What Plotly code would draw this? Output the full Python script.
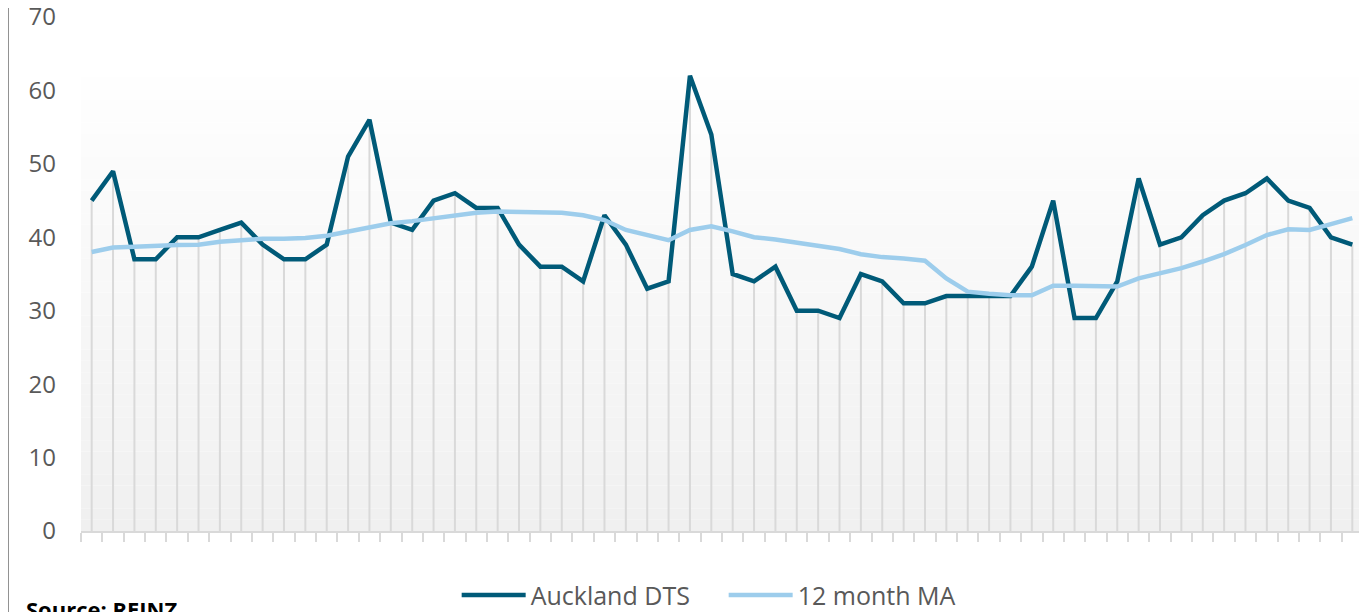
import plotly.graph_objects as go

# ---- data ----
periods = list(range(1, 61))
auckland_dts = [45, 49, 37, 37, 40, 40, 41, 42, 39, 37,
                37, 39, 51, 56, 42, 41, 45, 46, 44, 44,
                39, 36, 36, 34, 43, 39, 33, 34, 62, 54,
                35, 34, 36, 30, 30, 29, 35, 34, 31, 31,
                32, 32, 32, 32, 36, 45, 29, 29, 34, 48,
                39, 40, 43, 45, 46, 48, 45, 44, 40, 39]
ma_12 = [38.0, 38.6, 38.7, 38.9, 38.95, 39.0, 39.4, 39.6, 39.8, 39.8,
         39.9, 40.2, 40.8, 41.4, 41.9, 42.2, 42.6, 43.0, 43.35, 43.5,
         43.5, 43.45, 43.35, 43.0, 42.35, 41.0, 40.3, 39.6, 41.0, 41.5,
         40.8, 40.0, 39.7, 39.3, 38.8, 38.4, 37.7, 37.3, 37.1, 36.8,
         34.4, 32.6, 32.3, 32.1, 32.1, 33.4, 33.4, 33.4, 33.3, 34.4,
         35.1, 35.8, 36.7, 37.7, 38.95, 40.3, 41.1, 41.0, 41.8, 42.6]
y_ticks = [0, 10, 20, 30, 40, 50, 60, 70]
series_names = ["Auckland DTS", "12 month MA"]

DARK = "#005a78"
LIGHT = "#9dcdec"
GREY_TXT = "#595959"
FONT = "Open Sans"

fig = go.Figure()

# drop lines from each DTS point down to zero
drop_x, drop_y = [], []
for p, v in zip(periods, auckland_dts):
    drop_x += [p, p, None]
    drop_y += [0, v, None]
fig.add_trace(go.Scatter(x=drop_x, y=drop_y, mode="lines",
                         line=dict(color="#d9d9d9", width=2),
                         showlegend=False, hoverinfo="skip"))

fig.add_trace(go.Scatter(x=periods, y=auckland_dts, mode="lines", name=series_names[0],
                         line=dict(color=DARK, width=4.5, shape="linear")))
fig.add_trace(go.Scatter(x=periods, y=ma_12, mode="lines", name=series_names[1],
                         line=dict(color=LIGHT, width=4.5)))

# gradient plot-area fill (white at top -> light grey at bottom)
shapes = []
n_bands = 40
top = 0.883
for i in range(n_bands):
    y0 = top * i / n_bands
    y1 = top * (i + 1) / n_bands
    frac = i / (n_bands - 1)  # 0 bottom, 1 top
    c = int(round(240 + (254 - 240) * frac))
    shapes.append(dict(type="rect", xref="paper", yref="paper", x0=0, x1=1, y0=y0, y1=y1,
                       fillcolor=f"rgb({c},{c},{c})", line=dict(width=0), layer="below"))
# left frame line
shapes.append(dict(type="line", xref="paper", yref="paper", x0=-0.0566, x1=-0.0566,
                   y0=-0.2, y1=1.1, line=dict(color="#8c8c8c", width=1)))

boundaries = [p - 0.5 for p in periods] + [periods[-1] + 0.5]

fig.update_layout(
    width=1359, height=604,
    margin=dict(l=73, r=4, t=9, b=81, autoexpand=False),
    paper_bgcolor="white", plot_bgcolor="rgba(0,0,0,0)",
    shapes=shapes,
    font=dict(family=FONT, color=GREY_TXT, size=24),
    showlegend=True,
    legend=dict(orientation="h", x=0.5013, xanchor="center", y=-0.125, yanchor="middle",
                font=dict(size=25, color=GREY_TXT, family=FONT),
                itemwidth=64, entrywidth=188, entrywidthmode="pixels",
                bgcolor="rgba(0,0,0,0)"),
    xaxis=dict(range=[periods[0] - 0.5, periods[-1] + 0.5], showgrid=False, zeroline=False,
               showline=True, linecolor="#d9d9d9", linewidth=2, automargin=False,
               tickmode="array", tickvals=boundaries, ticktext=["" for _ in boundaries],
               ticks="outside", ticklen=9, tickwidth=2, tickcolor="#d9d9d9",
               showticklabels=True),
    yaxis=dict(range=[0, 70], tickvals=y_ticks, showgrid=False, zeroline=False,
               showline=False, ticks="", ticklabelstandoff=24, automargin=False,
               ticklabeloverflow="allow",
               tickfont=dict(size=24, color=GREY_TXT, family=FONT)),
    annotations=[dict(text="<b>Source: REINZ</b>", xref="paper", yref="paper",
                      x=-0.0445, y=-0.118, xanchor="left", yanchor="top", showarrow=False,
                      font=dict(size=22, color="black", family=FONT))],
)

fig.write_html("out.html")
